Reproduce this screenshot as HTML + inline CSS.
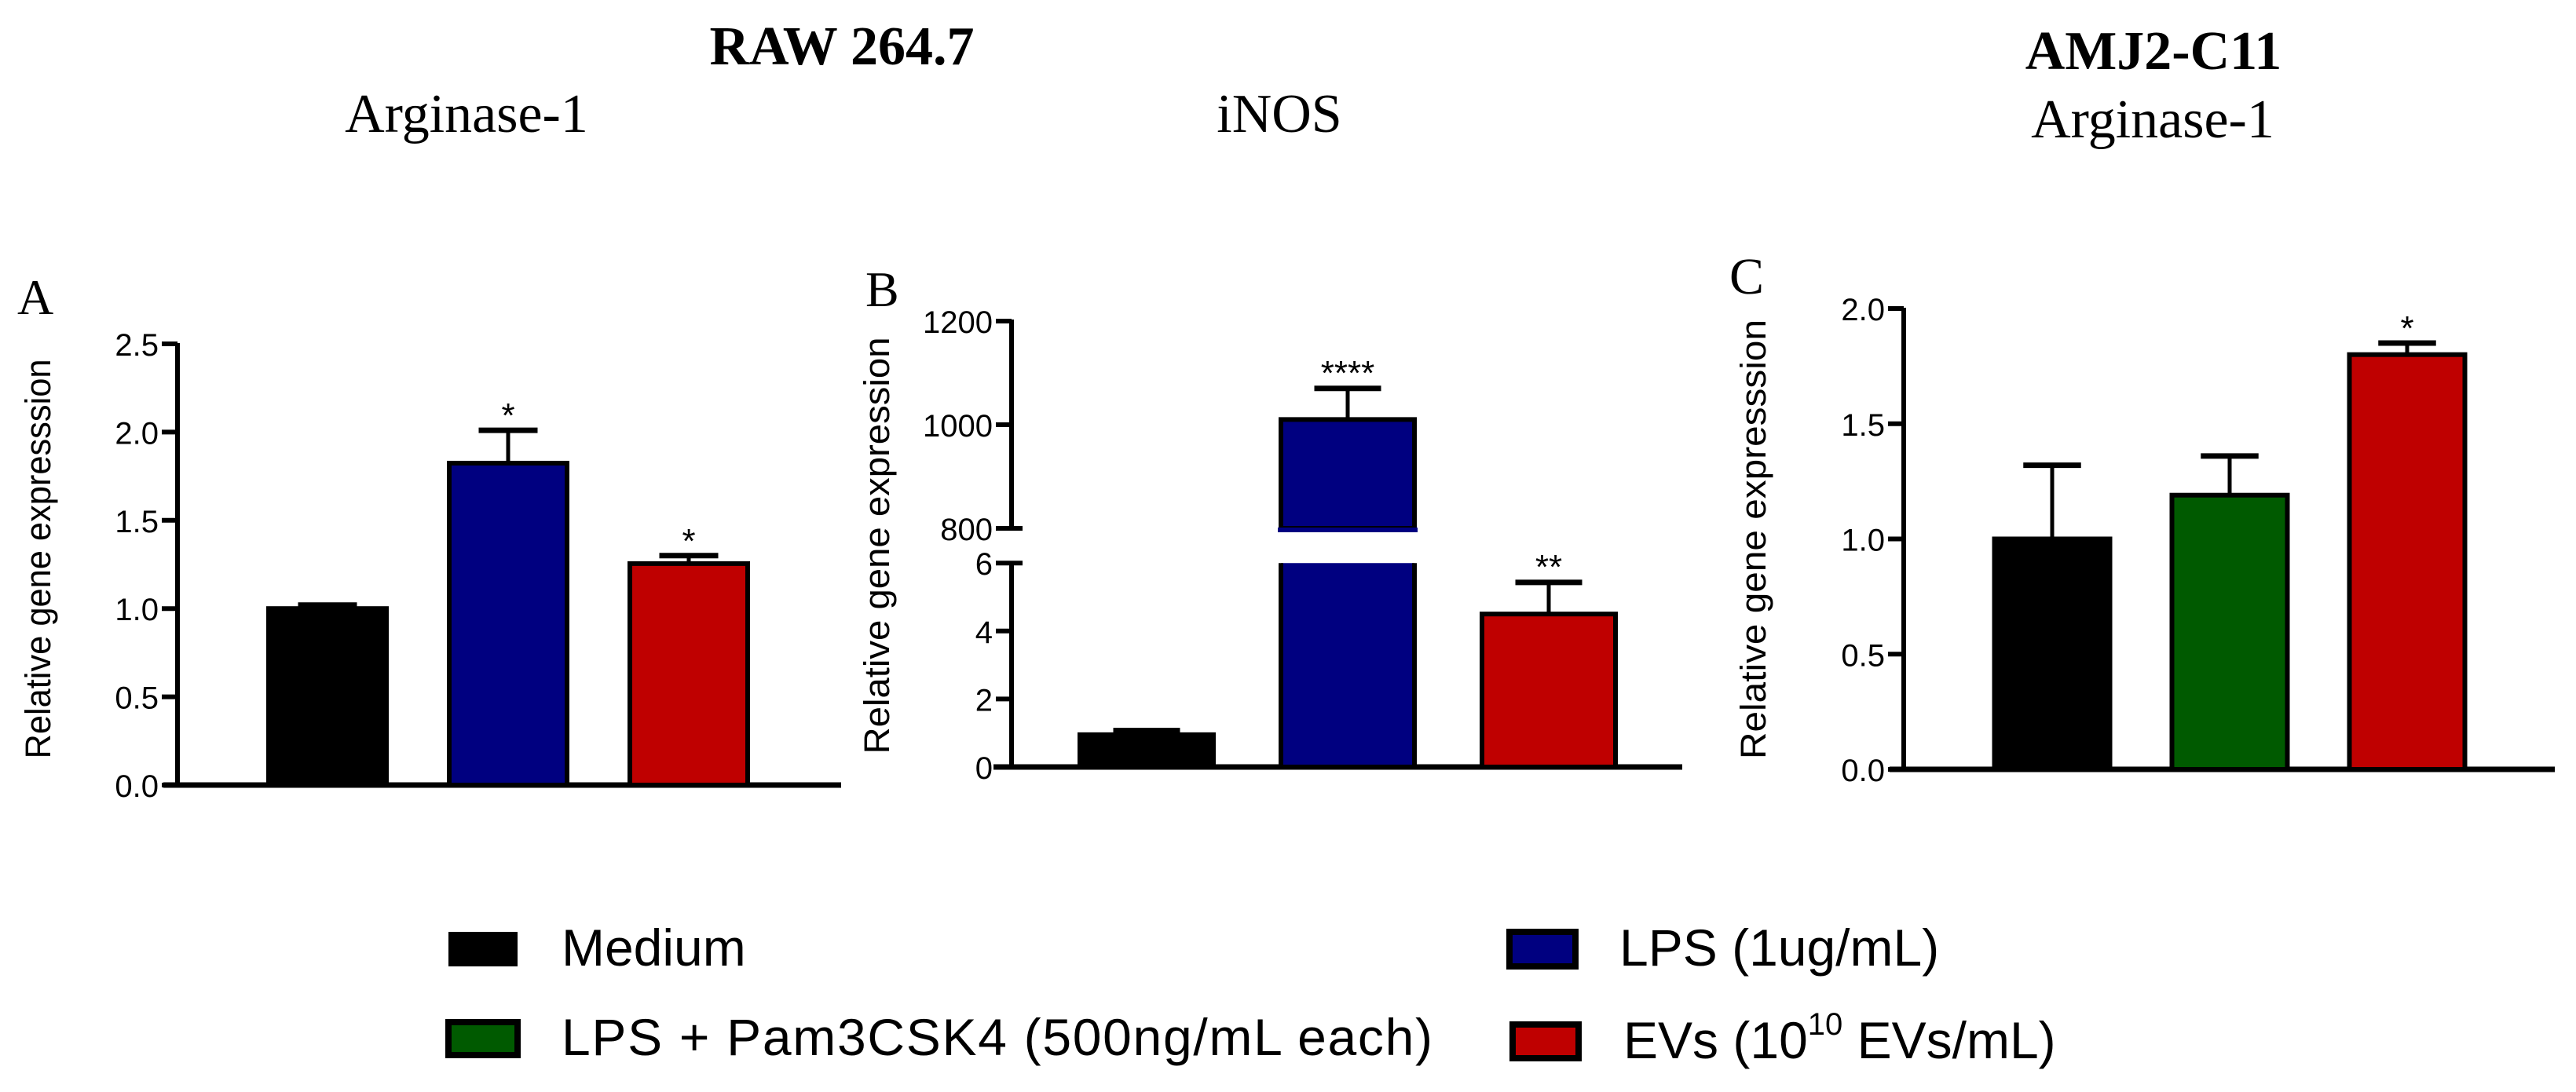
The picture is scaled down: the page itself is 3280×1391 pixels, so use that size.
<!DOCTYPE html>
<html><head><meta charset="utf-8"><style>
html,body{margin:0;padding:0;background:#fff;}
svg{display:block;}
.tk{font-family:"Liberation Sans",Arial,sans-serif;font-size:40px;fill:#000;}
.yt{font-family:"Liberation Sans",Arial,sans-serif;font-size:45px;fill:#000;}
.tt{font-family:"Liberation Serif","Times New Roman",serif;fill:#000;}
.lg{font-family:"Liberation Sans",Arial,sans-serif;font-size:66px;fill:#000;}
.st{font-family:"Liberation Sans",Arial,sans-serif;font-size:44px;fill:#000;}
</style></head><body>
<svg id="fig" width="3280" height="1391" viewBox="0 0 3280 1391" xmlns="http://www.w3.org/2000/svg">
<text class="tt" x="1072" y="82" font-size="70" font-weight="bold" text-anchor="middle">RAW 264.7</text>
<text class="tt" x="2742" y="88" font-size="70" font-weight="bold" text-anchor="middle">AMJ2-C11</text>
<text class="tt" x="594" y="168" font-size="70" text-anchor="middle">Arginase-1</text>
<text class="tt" x="1629" y="168" font-size="70" text-anchor="middle">iNOS</text>
<text class="tt" x="2741" y="175" font-size="70" text-anchor="middle">Arginase-1</text>
<text class="tt" x="22" y="400" font-size="64">A</text>
<text class="tt" x="1102" y="390" font-size="64">B</text>
<text class="tt" x="2202" y="374" font-size="66">C</text>

<rect x="571" y="1187" width="88" height="44" fill="#000"/>
<text class="lg" x="715" y="1230">Medium</text>
<rect x="1922" y="1187" width="84" height="44" fill="#000080" stroke="#000" stroke-width="8"/>
<text class="lg" x="2062" y="1230">LPS (1ug/mL)</text>
<rect x="571" y="1302" width="88" height="42" fill="#005a00" stroke="#000" stroke-width="8"/>
<text class="lg" x="715" y="1344" textLength="1109">LPS + Pam3CSK4 (500ng/mL each)</text>
<rect x="1926" y="1305" width="84" height="43" fill="#bf0000" stroke="#000" stroke-width="8"/>
<text class="lg" x="2067" y="1348">EVs (10<tspan font-size="40" dy="-30">10</tspan><tspan dy="30"> EVs/mL)</tspan></text>
<g id="charts"></g>
</svg>
<script>
// Panel A: RAW 264.7 Arginase-1
const aCategories = ["Medium", "LPS", "EVs"];
const aValues = [1.0, 1.824, 1.255];
const aErrors = [1.02, 2.01, 1.30];
const aStars = ["", "*", "*"];
const aTicks = [0, 0.5, 1.0, 1.5, 2.0, 2.5];
const aTickLabels = ["0.0", "0.5", "1.0", "1.5", "2.0", "2.5"];
// Panel B: RAW 264.7 iNOS (broken axis)
const bCategories = ["Medium", "LPS", "EVs"];
const bValues = [0.95, 1010, 4.5];
const bErrors = [1.07, 1070, 5.43];
const bStars = ["", "****", "**"];
const bLowTicks = [0, 2, 4, 6];
const bHighTicks = [800, 1000, 1200];
// Panel C: AMJ2-C11 Arginase-1
const cCategories = ["Medium", "LPS + Pam3CSK4", "EVs"];
const cValues = [1.0, 1.19, 1.80];
const cErrors = [1.32, 1.36, 1.85];
const cStars = ["", "", "*"];
const cTicks = [0, 0.5, 1.0, 1.5, 2.0];
const cTickLabels = ["0.0", "0.5", "1.0", "1.5", "2.0"];

const colorMap = {"Medium":"#000000","LPS":"#000080","EVs":"#bf0000","LPS + Pam3CSK4":"#005a00"};
const NS = "http://www.w3.org/2000/svg";
const root = document.getElementById("charts");
function mk(tag, attrs, parent) {
  const e = document.createElementNS(NS, tag);
  for (const k in attrs) e.setAttribute(k, attrs[k]);
  (parent || root).appendChild(e);
  return e;
}
function line(x1,y1,x2,y2,w,g){ return mk("line",{x1:x1,y1:y1,x2:x2,y2:y2,stroke:"#000","stroke-width":w},g); }

function drawPanel(p) {
  const g = mk("g", {});
  
  
  const ax = line(p.axisX, p.yTop, p.axisX, p.y0, 6, g);
  
  
  const xa = line(p.xStart, p.y0, p.xEnd, p.y0, 7, g);
  
  
  p.ticks.forEach((t, i) => {
    const y = p.scale(t);
    line(p.axisX - 20, y, p.axisX, y, 6, g);
    const tx = mk("text", {x: p.axisX - 24, y: y + 15, "text-anchor": "end", "class": "tk"}, g);
    tx.textContent = p.tickLabels[i];
    
    
  });
  p.cats.forEach((c, i) => {
    const cx = p.firstX + i * p.step;
    const yv = p.scale(p.values[i]);
    const ye = p.scale(p.errors[i]);
    line(cx, ye, cx, yv, 5, g);
    line(cx - p.bw * 0.25, ye, cx + p.bw * 0.25, ye, 7, g);
    const r = mk("rect", {x: cx - p.bw/2, y: yv, width: p.bw, height: p.y0 - yv, fill: colorMap[c], stroke: "#000", "stroke-width": 6}, g);
    
    
    if (p.stars[i]) {
      const s = mk("text", {x: cx, y: ye - 4, "text-anchor": "middle", "class": "st"}, g);
      s.textContent = p.stars[i];
      
      
    }
  });
  const yt = mk("text", {"class": "yt", "text-anchor": "middle", textLength: p.titleLen, lengthAdjust: "spacingAndGlyphs",
    transform: "translate(" + (p.titleX + 15) + "," + p.titleY + ") rotate(-90)"}, g);
  yt.textContent = p.title;
  
  
}

drawPanel({name: "chart-a", cats: aCategories, values: aValues, errors: aErrors, stars: aStars,
  ticks: aTicks, tickLabels: aTickLabels, scale: v => 1000 - v * 224.8, y0: 1000, yTop: 437,
  axisX: 226, xStart: 208, xEnd: 1071, firstX: 417, step: 230, bw: 150,
  title: "Relative gene expresssion", titleX: 49, titleY: 712, titleLen: 509});

drawPanel({name: "chart-c", cats: cCategories, values: cValues, errors: cErrors, stars: cStars,
  ticks: cTicks, tickLabels: cTickLabels, scale: v => 980 - v * 293.5, y0: 980, yTop: 392,
  axisX: 2424, xStart: 2406, xEnd: 3253, firstX: 2613, step: 226, bw: 147,
  title: "Relative gene expresssion", titleX: 2233, titleY: 687, titleLen: 560});

(function(){
  const g = mk("g", {});
  
  
  const lowY0 = 977, lowPx = 43.3, lowMax = 6;
  const hiBase = 673, hiPx = 0.66, hiMin = 800;
  const lowScale = v => lowY0 - Math.min(v, lowMax) * lowPx;
  const hiScale = v => hiBase - (v - hiMin) * hiPx;
  const axisX = 1288;
  const a1 = line(axisX, hiScale(1200) - 2, axisX, hiBase, 6, g);
  
  
  const a2 = line(axisX, lowScale(6), axisX, lowY0, 6, g);
  
  
  const xa = line(1265, lowY0, 2142, lowY0, 7, g);
  
  
  function tick(y, label, both) {
    line(axisX - 20, y, axisX + (both ? 14 : 0), y, 6, g);
    const t = mk("text", {x: axisX - 24, y: y + 15, "text-anchor": "end", "class": "tk"}, g);
    t.textContent = label;
    
    
  }
  bLowTicks.forEach(v => tick(lowScale(v), String(v), v === lowMax));
  bHighTicks.forEach(v => tick(hiScale(v), String(v), v === hiMin));
  const firstX = 1460, step = 256, bw = 170;
  bCategories.forEach((c, i) => {
    const cx = firstX + i * step;
    const v = bValues[i], e = bErrors[i];
    const high = v > lowMax;
    const yv = high ? hiScale(v) : lowScale(v);
    const ye = high ? hiScale(e) : lowScale(e);
    line(cx, ye, cx, yv, 5, g);
    line(cx - bw * 0.25, ye, cx + bw * 0.25, ye, 7, g);
    if (high) {
      const r1 = mk("path", {d: "M" + (cx - bw/2) + "," + hiBase + " V" + yv + " H" + (cx + bw/2) + " V" + hiBase + " Z", fill: colorMap[c], stroke: "#000", "stroke-width": 6}, g);
      
      
      mk("rect", {x: cx - bw/2 - 4, y: hiBase - 1, width: bw + 8, height: 6, fill: colorMap[c]}, g);
      const r2 = mk("path", {d: "M" + (cx - bw/2) + "," + lowScale(lowMax) + " V" + lowY0 + " H" + (cx + bw/2) + " V" + lowScale(lowMax), fill: colorMap[c], stroke: "#000", "stroke-width": 6}, g);
      
      
    } else {
      const r = mk("rect", {x: cx - bw/2, y: yv, width: bw, height: lowY0 - yv, fill: colorMap[c], stroke: "#000", "stroke-width": 6}, g);
      
      
    }
    if (bStars[i]) {
      const s = mk("text", {x: cx, y: ye - 5, "text-anchor": "middle", "class": "st"}, g);
      s.textContent = bStars[i];
      
      
    }
  });
  const yt = mk("text", {"class": "yt", "text-anchor": "middle", textLength: 531, lengthAdjust: "spacingAndGlyphs",
    transform: "translate(" + (1117 + 15) + ",695) rotate(-90)"}, g);
  yt.textContent = "Relative gene expression";
  
  
})();
</script>
</body></html>
